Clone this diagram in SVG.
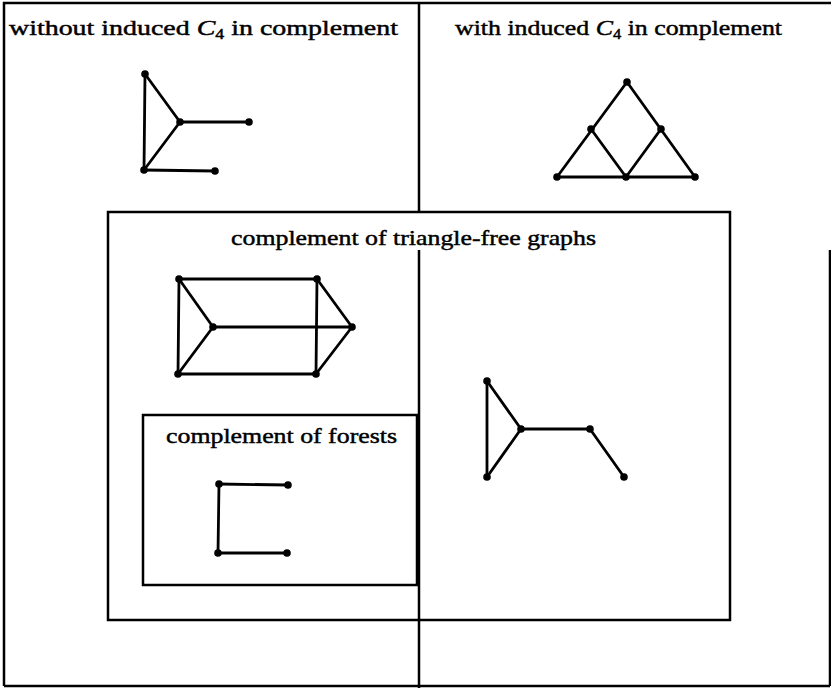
<svg xmlns="http://www.w3.org/2000/svg" width="831" height="688" viewBox="0 0 831 688">
<style>
.frame{fill:none;stroke:#000;stroke-width:2.5}
.e{stroke:#000;stroke-width:2.8;stroke-linecap:round}
.n{fill:#000}
text{font-family:"Liberation Serif","Times New Roman",serif;font-size:22px;fill:#000;stroke:#000;stroke-width:0.45}
</style>
<rect width="831" height="688" fill="#fff"/>
<g id="frames">
<path class="frame" d="M4,686 L4,3 L831,3 M4,686 L830,686 M830,250 L830,686"/>
<path class="frame" d="M419,3 L419,212 M419,250 L419,688"/>
<rect class="frame" x="108" y="212" width="622" height="408"/>
<rect class="frame" x="143" y="415" width="274" height="170"/>
</g>
<g id="labels">
<text x="9" y="35" textLength="389" lengthAdjust="spacingAndGlyphs">without induced <tspan font-style="italic">C</tspan><tspan font-size="14" dy="4">4</tspan><tspan dy="-4"> in complement</tspan></text>
<text x="455" y="35" textLength="327" lengthAdjust="spacingAndGlyphs">with induced <tspan font-style="italic">C</tspan><tspan font-size="14" dy="4">4</tspan><tspan dy="-4"> in complement</tspan></text>
<text x="231" y="245" textLength="365" lengthAdjust="spacingAndGlyphs">complement of triangle-free graphs</text>
<text x="166" y="443" textLength="231" lengthAdjust="spacingAndGlyphs">complement of forests</text>
</g>
<g id="connectors">
<line class="e" x1="145" y1="74" x2="144" y2="170"/>
<line class="e" x1="145" y1="74" x2="180" y2="122"/>
<line class="e" x1="144" y1="170" x2="180" y2="122"/>
<line class="e" x1="180" y1="122" x2="249" y2="122"/>
<line class="e" x1="144" y1="170" x2="215" y2="171"/>
<line class="e" x1="627" y1="82" x2="557" y2="177"/>
<line class="e" x1="627" y1="82" x2="695" y2="177"/>
<line class="e" x1="591" y1="129" x2="626" y2="177"/>
<line class="e" x1="661" y1="129" x2="626" y2="177"/>
<line class="e" x1="557" y1="177" x2="695" y2="177"/>
<line class="e" x1="179" y1="279" x2="317" y2="279"/>
<line class="e" x1="179" y1="279" x2="178" y2="374"/>
<line class="e" x1="178" y1="374" x2="316" y2="374"/>
<line class="e" x1="317" y1="279" x2="316" y2="374"/>
<line class="e" x1="179" y1="279" x2="213" y2="327"/>
<line class="e" x1="178" y1="374" x2="213" y2="327"/>
<line class="e" x1="213" y1="327" x2="352" y2="327"/>
<line class="e" x1="317" y1="279" x2="352" y2="327"/>
<line class="e" x1="316" y1="374" x2="352" y2="327"/>
<line class="e" x1="487" y1="381" x2="521" y2="429"/>
<line class="e" x1="487" y1="381" x2="487" y2="477"/>
<line class="e" x1="487" y1="477" x2="521" y2="429"/>
<line class="e" x1="521" y1="429" x2="590" y2="429"/>
<line class="e" x1="590" y1="429" x2="624" y2="477"/>
<line class="e" x1="219" y1="484" x2="288" y2="485"/>
<line class="e" x1="219" y1="484" x2="218" y2="553"/>
<line class="e" x1="218" y1="553" x2="287" y2="553"/>
</g>
<g id="g1-nodes">
<circle class="n" cx="145" cy="74" r="3.8"/><circle class="n" cx="180" cy="122" r="3.8"/><circle class="n" cx="249" cy="122" r="3.8"/><circle class="n" cx="144" cy="170" r="3.8"/><circle class="n" cx="215" cy="171" r="3.8"/>
</g>
<g id="g2-nodes">
<circle class="n" cx="627" cy="82" r="3.8"/><circle class="n" cx="591" cy="129" r="3.8"/><circle class="n" cx="661" cy="129" r="3.8"/><circle class="n" cx="557" cy="177" r="3.8"/><circle class="n" cx="626" cy="177" r="3.8"/><circle class="n" cx="695" cy="177" r="3.8"/>
</g>
<g id="prism-nodes">
<circle class="n" cx="179" cy="279" r="3.8"/><circle class="n" cx="317" cy="279" r="3.8"/><circle class="n" cx="213" cy="327" r="3.8"/><circle class="n" cx="352" cy="327" r="3.8"/><circle class="n" cx="178" cy="374" r="3.8"/><circle class="n" cx="316" cy="374" r="3.8"/>
</g>
<g id="g4-nodes">
<circle class="n" cx="487" cy="381" r="3.8"/><circle class="n" cx="521" cy="429" r="3.8"/><circle class="n" cx="590" cy="429" r="3.8"/><circle class="n" cx="487" cy="477" r="3.8"/><circle class="n" cx="624" cy="477" r="3.8"/>
</g>
<g id="forest-nodes">
<circle class="n" cx="219" cy="484" r="3.8"/><circle class="n" cx="288" cy="485" r="3.8"/><circle class="n" cx="218" cy="553" r="3.8"/><circle class="n" cx="287" cy="553" r="3.8"/>
</g>
</svg>
